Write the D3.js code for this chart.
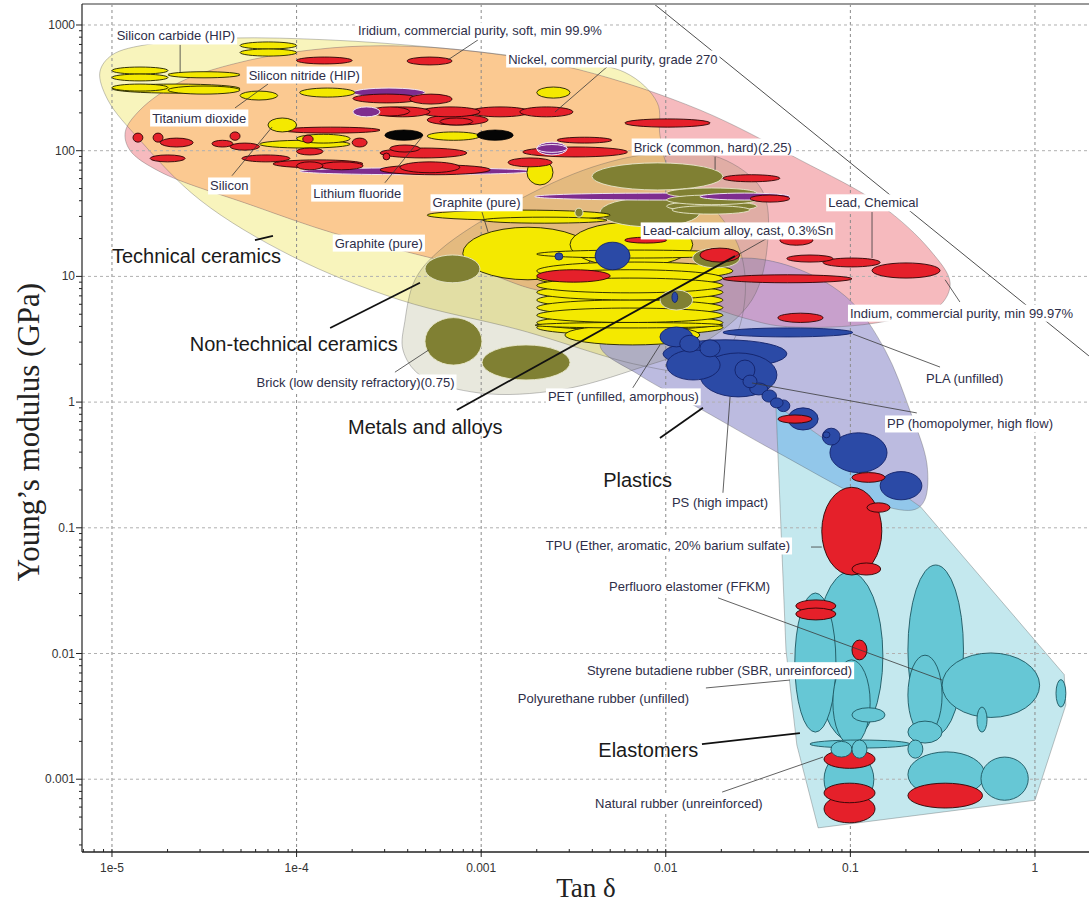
<!DOCTYPE html>
<html>
<head>
<meta charset="utf-8">
<script src="https://cdn.jsdelivr.net/npm/d3@7"></script>
<style>
  html, body { margin: 0; padding: 0; background: #fff; }
  svg { display: block; }
</style>
</head>
<body>
<svg id="chart" width="1089" height="911"></svg>
<script>
// ---------------- data ----------------
// Each bubble: [tan δ min, tan δ max, E min (GPa), E max (GPa)]
const technicalCeramics = [
  [4.94e-5, 1.0e-4, 644, 733], [4.94e-5, 1.0e-4, 566, 644],
  [1.0e-5, 2.01e-5, 407, 463], [1.0e-5, 2.01e-5, 359, 407], [1.0e-5, 2.01e-5, 298, 339],
  [2.01e-5, 4.94e-5, 380, 425], [1.0e-5, 4.94e-5, 287, 339], [2.01e-5, 4.94e-5, 282, 327],
  [4.94e-5, 7.9e-5, 253, 298], [1.04e-4, 2.07e-4, 267, 315],
  [7.0e-5, 1.0e-4, 141, 182], [6.3e-5, 1.95e-4, 105, 121], [1.0e-4, 1.95e-4, 115, 135],
  [2.0e-3, 3.03e-3, 262, 321], [5.1e-4, 9.85e-4, 121, 141], [1.77e-3, 2.45e-3, 53.4, 84.5],
  [5.1e-4, 5.0e-3, 28, 33.7], [1.02e-3, 4.8e-3, 26.5, 29.6],
  [7.95e-4, 4.04e-3, 9.4, 24.6], [3.03e-3, 0.014, 11.9, 27], [2.0e-3, 0.0231, 14, 16.2],
  [2.0e-3, 0.0231, 9.4, 13.0], [2.0e-3, 0.0204, 8.3, 11.3], [2.0e-3, 0.0204, 7.4, 9.7],
  [2.0e-3, 0.0204, 6.5, 8.6], [2.0e-3, 0.0204, 5.6, 7.5], [2.0e-3, 0.0204, 4.9, 6.5],
  [2.0e-3, 0.0204, 4.3, 5.6], [2.0e-3, 0.0204, 3.75, 4.9], [2.0e-3, 0.0204, 3.42, 4.5],
  [2.84e-3, 0.0153, 2.85, 4.1], [1.96e-3, 0.0204, 3.89, 4.3]
];
const nonTechnicalCeramics = [
  [3.98e-3, 0.0204, 48.7, 80.0], [0.0101, 0.0312, 42.1, 50.5], [0.0101, 0.0312, 37.2, 44.4],
  [0.0101, 0.0312, 33.0, 39.7], [0.0108, 0.0286, 31.3, 36.5], [4.4e-3, 0.0153, 24.8, 42.2],
  [3.22e-3, 3.56e-3, 29.6, 34.9], [4.96e-4, 9.85e-4, 8.9, 14.8], [4.96e-4, 1.01e-3, 1.97, 4.7],
  [1.01e-3, 3.03e-3, 1.5, 2.85], [9.3e-3, 0.014, 5.4, 7.8], [0.014, 0.0252, 11.7, 16.8]
];
const metalsAlloys = [
  [1.0e-4, 2.0e-4, 490, 556], [3.97e-4, 6.95e-4, 481, 556], [2.02e-4, 4.66e-4, 240, 282],
  [4.1e-4, 6.95e-4, 235, 282], [2.5e-4, 4.1e-4, 189, 223], [2.66e-4, 5.28e-4, 186, 223],
  [4.66e-4, 9.85e-4, 186, 223], [8.7e-4, 1.84e-3, 186, 223], [1.62e-3, 3.14e-3, 186, 223],
  [5.1e-4, 1.09e-3, 160, 193], [5.98e-4, 9.0e-4, 160, 182], [6.0e-3, 0.0174, 154, 179],
  [2.58e-3, 5.1e-3, 115, 128], [1.68e-3, 6.2e-3, 89.2, 107], [1.40e-3, 2.42e-3, 74.4, 87.6],
  [2.83e-4, 8.36e-4, 87.6, 105], [3.2e-4, 4.66e-4, 97.6, 111], [2.83e-4, 1.12e-3, 64.4, 77.2],
  [3.63e-4, 7.66e-4, 66.8, 81.5], [0.0204, 0.0415, 56.6, 64.4], [0.0286, 0.047, 39.0, 44.4],
  [0.0415, 0.0627, 17.7, 21.3], [0.0453, 0.0804, 13.0, 14.8], [0.0711, 0.145, 11.9, 14.0],
  [0.131, 0.306, 9.7, 12.8], [0.0204, 0.102, 8.9, 10.3], [0.0405, 0.0711, 4.3, 5.1],
  [2.0e-3, 5.0e-3, 9.0, 11.3], [0.0153, 0.0252, 13.0, 16.8], [6.0e-3, 0.0101, 18.4, 20.5],
  [0.0405, 0.062, 0.68, 0.79], [0.102, 0.154, 0.23, 0.275], [0.123, 0.164, 0.133, 0.158],
  [0.070, 0.148, 0.0421, 0.21], [0.102, 0.146, 0.0421, 0.0525], [0.0506, 0.0835, 0.0214, 0.0267],
  [0.0506, 0.0835, 0.0185, 0.023], [0.102, 0.123, 0.0089, 0.0128], [0.072, 0.136, 0.00122, 0.00171],
  [0.072, 0.136, 0.00065, 0.00093], [0.072, 0.136, 0.00045, 0.00075], [0.205, 0.52, 0.00059, 0.00093],
  [1.30e-5, 1.47e-5, 117, 138], [1.67e-5, 1.89e-5, 117, 138], [1.82e-5, 2.75e-5, 107, 126],
  [1.61e-5, 2.49e-5, 81.5, 92.5], [3.48e-5, 4.52e-5, 107, 121], [4.36e-5, 4.94e-5, 121, 141],
  [4.36e-5, 6.3e-5, 101, 115], [5.06e-5, 9.2e-5, 81.5, 92.5], [7.45e-5, 2.29e-4, 73.1, 84.5],
  [8.3e-5, 2.83e-4, 138, 154], [1.0e-4, 1.39e-4, 92.5, 105], [2.0e-4, 2.41e-4, 107, 126],
  [1.08e-4, 1.23e-4, 115, 133], [1.0e-4, 1.39e-4, 70.5, 81.5], [1.34e-4, 2.29e-4, 70.5, 81.5],
  [2.94e-4, 3.2e-4, 84.5, 95.8]
];
const purpleMaterials = [
  [2.02e-4, 4.96e-4, 267, 315], [2.02e-4, 2.83e-4, 186, 223], [2.0e-3, 2.92e-3, 92.5, 117],
  [2.0e-3, 2.92e-3, 97, 112], [1.04e-4, 1.91e-3, 64.4, 73.1], [1.95e-3, 0.047, 40.5, 46.0],
  [0.0153, 0.047, 40.5, 46.0]
];
const blackMaterials = [
  [3.01e-4, 4.83e-4, 121, 146], [9.5e-4, 1.49e-3, 121, 146]
];
const plastics = [
  [4.14e-3, 6.4e-3, 11.3, 18.7], [2.51e-3, 2.77e-3, 13.5, 15.4], [0.0108, 0.0116, 6.2, 7.5],
  [9.3e-3, 0.014, 2.75, 3.96], [9.66e-3, 0.0453, 1.87, 3.13], [0.0101, 0.0197, 1.5, 2.6],
  [0.0153, 0.040, 1.10, 2.46], [0.0204, 0.103, 3.3, 3.89], [0.0262, 0.0312, 1.30, 1.64],
  [0.0285, 0.0357, 1.14, 1.42], [0.0332, 0.0398, 1.0, 1.25], [0.0369, 0.0432, 0.90, 1.08],
  [0.040, 0.047, 0.84, 1.04], [0.0119, 0.0153, 2.5, 3.4], [0.0153, 0.0197, 2.29, 3.13],
  [0.0237, 0.0304, 1.5, 2.16], [0.0459, 0.0669, 0.60, 0.90], [0.0711, 0.0775, 0.52, 0.58],
  [0.0775, 0.158, 0.275, 0.57], [0.0705, 0.088, 0.455, 0.62], [0.145, 0.244, 0.167, 0.28]
];
const elastomers = [
  [0.065, 0.150, 0.00205, 0.0445], [0.050, 0.0835, 0.00237, 0.0303], [0.0804, 0.128, 0.00187, 0.0089],
  [0.205, 0.41, 0.00225, 0.0506], [0.205, 0.314, 0.00225, 0.0097], [0.314, 1.06, 0.0031, 0.0101],
  [1.30, 1.47, 0.00375, 0.0062], [0.485, 0.55, 0.00237, 0.00375], [0.102, 0.154, 0.00285, 0.0037],
  [0.205, 0.314, 0.00194, 0.0029], [0.0604, 0.210, 0.00177, 0.00205], [0.205, 0.247, 0.00147, 0.00205],
  [0.102, 0.123, 0.00147, 0.00205], [0.0785, 0.102, 0.0015, 0.002], [0.205, 0.535, 0.00072, 0.00165],
  [0.51, 0.92, 0.00068, 0.0015], [0.072, 0.134, 0.0006, 0.00165]
];

// Family envelopes: [tan δ, E (GPa)] outline points
const techCeramicsEnvelope = [
  [8.6e-6, 423], [1.0e-5, 577], [1.61e-5, 706], [4.36e-5, 787], [1.52e-4, 760], [5.28e-4, 668],
  [1.84e-3, 546], [6.0e-3, 420], [9.0e-3, 240], [9.3e-3, 133], [0.0105, 70.5], [0.0185, 33.7],
  [0.0252, 16.2], [0.0268, 6.5], [0.0224, 2.85], [0.0136, 1.8], [7.2e-3, 1.97], [1.62e-3, 3.75],
  [3.63e-4, 6.5], [9.5e-5, 14.4], [3.0e-5, 40.5], [1.42e-5, 121], [9.5e-6, 253]
];
const metalsEnvelope = [
  [1.18e-5, 141], [1.42e-5, 211], [2.34e-5, 352], [5.6e-5, 527], [1.52e-4, 656], [3.63e-4, 681],
  [9.85e-4, 610], [3.43e-3, 439], [0.0153, 211], [0.0533, 84.5], [0.145, 37.2], [0.270, 16.2],
  [0.347, 8.9], [0.306, 5.9], [0.186, 4.65], [0.099, 4.03], [0.0415, 4.03], [0.0268, 4.65],
  [0.0153, 5.9], [6.4e-3, 6.5], [2.0e-3, 7.8], [1.02e-3, 10.9], [3.63e-4, 16.2], [1.57e-4, 22.2],
  [5.6e-5, 37.2], [1.82e-5, 68], [1.25e-5, 101]
];
const nonTechEnvelope = [
  [3.86e-4, 4.4], [4.38e-4, 9.4], [5.98e-4, 16.2], [1.49e-3, 38.5], [4.04e-3, 74.4], [9.3e-3, 95.8],
  [0.0197, 87.6], [0.0332, 48.7], [0.0357, 19.4], [0.0293, 6.5], [0.0153, 2.85], [7.2e-3, 1.87],
  [2.67e-3, 1.25], [9.85e-4, 1.18], [4.66e-4, 1.64], [3.77e-4, 2.6]
];
const plasticsEnvelope = [
  [4.4e-3, 2.85], [7.2e-3, 6.5], [0.0153, 11.7], [0.0268, 14.0], [0.0533, 11.3], [0.099, 6.5],
  [0.154, 2.6], [0.210, 0.86], [0.26, 0.32], [0.253, 0.167], [0.224, 0.14], [0.145, 0.152],
  [0.040, 0.40], [0.0159, 0.86], [7.2e-3, 1.64]
];
const elastomersEnvelope = [
  [0.0395, 0.95], [0.241, 0.146], [1.44, 0.0068], [1.47, 0.0039], [1.0, 0.00068],
  [0.0669, 0.00041], [0.0513, 0.00187], [0.0448, 0.0106]
];

// Reference guideline
const guideLine = [[0.0085, 1500], [1.96, 2.33]];

// Material annotations: text anchored at its left edge / vertical middle
const materialLabels = [
  { text: "Silicon carbide (HIP)", t: 1.06e-5, e: 818, lead: [[2.34e-5, 694], [2.34e-5, 423]] },
  { text: "Iridium, commercial purity, soft, min 99.9%", t: 2.15e-4, e: 896, lead: [[9.6e-4, 760], [6.6e-4, 527]] },
  { text: "Silicon nitride (HIP)", t: 5.5e-5, e: 400, lead: null },
  { text: "Nickel, commercial purity, grade 270", t: 1.40e-3, e: 536, lead: [[4.87e-3, 472], [2.51e-3, 203]] },
  { text: "Titanium dioxide", t: 1.65e-5, e: 182, lead: [[4.64e-5, 219], [7.0e-5, 339]] },
  { text: "Silicon", t: 3.4e-5, e: 52.4, lead: [[4.47e-5, 63.3], [7.36e-5, 154]] },
  { text: "Lithium fluoride", t: 1.23e-4, e: 46, lead: [[3.01e-4, 55.6], [4.77e-4, 128]] },
  { text: "Brick (common, hard)(2.25)", t: 6.7e-3, e: 107, lead: [[0.0185, 89.2], [0.0185, 70.5]] },
  { text: "Graphite (pure)", t: 5.45e-4, e: 38.5, lead: [[1.01e-3, 32.5], [1.09e-3, 22.5]] },
  { text: "Graphite (pure)", t: 1.61e-4, e: 18.4, lead: null },
  { text: "Lead, Chemical", t: 0.0758, e: 38.5, lead: [[0.131, 32.5], [0.131, 14.0]] },
  { text: "Lead-calcium alloy, cast, 0.3%Sn", t: 7.5e-3, e: 23, lead: [[0.0405, 22.5], [0.0237, 14.4]] },
  { text: "Brick (low density refractory)(0.75)", t: 6.07e-5, e: 1.42, lead: [[3.41e-4, 1.73], [5.2e-4, 2.6]] },
  { text: "PET (unfilled, amorphous)", t: 2.3e-3, e: 1.10, lead: [[6.63e-3, 1.30], [9.3e-3, 2.85]] },
  { text: "PLA (unfilled)", t: 0.257, e: 1.55, lead: [[0.306, 1.90], [0.103, 3.48]] },
  { text: "PP (homopolymer, high flow)", t: 0.158, e: 0.67, lead: [[0.229, 0.82], [0.0293, 1.42]] },
  { text: "Indium, commercial purity, min 99.97%", t: 0.0995, e: 5.1, lead: [[0.392, 6.26], [0.326, 9.4]] },
  { text: "PS (high impact)", t: 0.0108, e: 0.158, lead: [[0.0204, 0.19], [0.0223, 1.10]] },
  { text: "TPU (Ether, aromatic, 20% barium sulfate)", t: 2.24e-3, e: 0.0717, lead: [[0.0612, 0.0703], [0.070, 0.0703]] },
  { text: "Perfluoro elastomer (FFKM)", t: 4.93e-3, e: 0.0344, lead: [[0.0192, 0.0277], [0.314, 0.00615]] },
  { text: "Styrene butadiene rubber (SBR, unreinforced)", t: 3.74e-3, e: 0.0073, lead: null },
  { text: "Polyurethane rubber (unfilled)", t: 1.58e-3, e: 0.0044, lead: [[0.0165, 0.00532], [0.047, 0.00615]] },
  { text: "Natural rubber (unreinforced)", t: 4.14e-3, e: 0.00064, lead: [[0.0202, 0.00079], [0.0711, 0.0015]] }
];
const familyLabels = [
  { text: "Technical ceramics", t: 1.0e-5, e: 14.4, lead: [[5.95e-5, 19.4], [7.45e-5, 21.0]] },
  { text: "Non-technical ceramics", t: 2.64e-5, e: 2.9, lead: [[1.52e-4, 3.89], [4.66e-4, 8.9]] },
  { text: "Metals and alloys", t: 1.90e-4, e: 0.63, lead: [[7.38e-4, 0.865], [0.0237, 14.5]] },
  { text: "Plastics", t: 4.58e-3, e: 0.24, lead: [[9.3e-3, 0.518], [0.0159, 0.90]] },
  { text: "Elastomers", t: 4.31e-3, e: 0.0017, lead: [[0.0157, 0.0019], [0.0533, 0.00233]] }
];

const xTickValues = [1e-5, 1e-4, 1e-3, 1e-2, 0.1, 1];
const xTickLabels = ["1e-5", "1e-4", "0.001", "0.01", "0.1", "1"];
const yTickValues = [1000, 100, 10, 1, 0.1, 0.01, 0.001];
const yTickLabels = ["1000", "100", "10", "1", "0.1", "0.01", "0.001"];

// ---------------- layout ----------------
const svg = d3.select("#chart");
const plot = { left: 82, top: 4, right: 1089, bottom: 852 };
const x = d3.scaleLog().domain([6.88e-6, 1.962]).range([plot.left, plot.right]);
const y = d3.scaleLog().domain([2.636e-4, 1469]).range([plot.bottom, plot.top]);

const defs = svg.append("defs");
defs.append("clipPath").attr("id", "plot-clip")
  .append("rect").attr("x", plot.left).attr("y", plot.top)
  .attr("width", plot.right - plot.left).attr("height", plot.bottom - plot.top);

const smooth = d3.line().x(d => x(d[0])).y(d => y(d[1])).curve(d3.curveCatmullRomClosed.alpha(0.5));
const straight = d3.line().x(d => x(d[0])).y(d => y(d[1])).curve(d3.curveLinearClosed);

const envPaths = {
  tech: smooth(techCeramicsEnvelope),
  metals: smooth(metalsEnvelope),
  nontech: smooth(nonTechEnvelope),
  plastics: smooth(plasticsEnvelope),
  elastomers: straight(elastomersEnvelope)
};
Object.entries(envPaths).forEach(([k, d]) => {
  defs.append("clipPath").attr("id", "clip-" + k).append("path").attr("d", d);
});

const g = svg.append("g").attr("clip-path", "url(#plot-clip)");

// ---- envelopes ----
const env = g.append("g");
env.append("path").attr("d", envPaths.tech).attr("fill", "#f8f4bc");
env.append("path").attr("d", envPaths.metals).attr("fill", "#f6babe");
env.append("g").attr("clip-path", "url(#clip-tech)")
  .append("path").attr("d", envPaths.metals).attr("fill", "#fbc991");
env.append("path").attr("d", envPaths.plastics).attr("fill", "#bcbbe0");
env.append("g").attr("clip-path", "url(#clip-metals)")
  .append("path").attr("d", envPaths.plastics).attr("fill", "#c8a0cc");
env.append("path").attr("d", envPaths.nontech).attr("fill", "rgba(100,100,30,0.15)");
env.append("path").attr("d", envPaths.elastomers).attr("fill", "#c4e8ee");
env.append("g").attr("clip-path", "url(#clip-plastics)")
  .append("path").attr("d", envPaths.elastomers).attr("fill", "#92c7ea");
Object.values(envPaths).forEach(d => {
  env.append("path").attr("d", d).attr("fill", "none")
    .attr("stroke", "rgba(90,90,90,0.45)").attr("stroke-width", 0.8);
});

// ---- grid ----
const grid = g.append("g");
xTickValues.forEach(v => {
  grid.append("line").attr("x1", x(v)).attr("x2", x(v)).attr("y1", plot.top).attr("y2", plot.bottom)
    .attr("stroke", "#8a8a8a").attr("stroke-width", 1).attr("stroke-dasharray", "3,3");
});
yTickValues.forEach(v => {
  grid.append("line").attr("x1", plot.left).attr("x2", plot.right).attr("y1", y(v)).attr("y2", y(v))
    .attr("stroke", "#b0b0b0").attr("stroke-width", 1).attr("stroke-dasharray", "3,3");
});

// ---- guideline ----
g.append("line")
  .attr("x1", x(guideLine[0][0])).attr("y1", y(guideLine[0][1]))
  .attr("x2", x(guideLine[1][0])).attr("y2", y(guideLine[1][1]))
  .attr("stroke", "#222").attr("stroke-width", 0.8);

// ---- bubbles (largest first so small ones stay visible) ----
const families = [
  { rows: technicalCeramics, fill: "#f4e900", stroke: "#1e1e00", sw: 0.9 },
  { rows: nonTechnicalCeramics, fill: "#808033", stroke: "#e9e8cc", sw: 0.9 },
  { rows: metalsAlloys, fill: "#e5202a", stroke: "#2a0505", sw: 0.9 },
  { rows: purpleMaterials, fill: "#7e2d8f", stroke: "#f1e6f4", sw: 1 },
  { rows: blackMaterials, fill: "#050505", stroke: "#000", sw: 0.8 },
  { rows: plastics, fill: "#2b4aa6", stroke: "#13236a", sw: 0.9 },
  { rows: elastomers, fill: "#66c7d5", stroke: "#1d5660", sw: 0.9 }
];
const bubbles = [];
families.forEach(f => f.rows.forEach(r => {
  const x1 = x(r[0]), x2 = x(r[1]), y1 = y(r[2]), y2 = y(r[3]);
  bubbles.push({ cx: (x1 + x2) / 2, cy: (y1 + y2) / 2, rx: Math.abs(x2 - x1) / 2, ry: Math.abs(y1 - y2) / 2, f });
}));
bubbles.sort((a, b) => b.rx * b.ry - a.rx * a.ry);
g.append("g").selectAll("ellipse").data(bubbles).join("ellipse")
  .attr("cx", d => d.cx).attr("cy", d => d.cy).attr("rx", d => d.rx).attr("ry", d => d.ry)
  .attr("fill", d => d.f.fill).attr("stroke", d => d.f.stroke).attr("stroke-width", d => d.f.sw);

// ---- leader lines ----
const leads = g.append("g");
materialLabels.filter(l => l.lead).forEach(l => {
  leads.append("line").attr("x1", x(l.lead[0][0])).attr("y1", y(l.lead[0][1]))
    .attr("x2", x(l.lead[1][0])).attr("y2", y(l.lead[1][1]))
    .attr("stroke", "#3a3a3a").attr("stroke-width", 0.8);
});
familyLabels.forEach(l => {
  leads.append("line").attr("x1", x(l.lead[0][0])).attr("y1", y(l.lead[0][1]))
    .attr("x2", x(l.lead[1][0])).attr("y2", y(l.lead[1][1]))
    .attr("stroke", "#111").attr("stroke-width", 1.8);
});

// ---- labels ----
const labelLayer = g.append("g");
materialLabels.forEach(l => {
  const lg = labelLayer.append("g");
  const txt = lg.append("text").attr("x", x(l.t)).attr("y", y(l.e))
    .attr("dominant-baseline", "central")
    .attr("font-family", "'Liberation Sans', Arial, sans-serif").attr("font-size", 13)
    .attr("fill", "#2e2e48").text(l.text);
  const b = txt.node().getBBox();
  lg.insert("rect", "text").attr("x", b.x - 2).attr("y", b.y - 1)
    .attr("width", b.width + 4).attr("height", b.height + 2).attr("fill", "#fff");
});
familyLabels.forEach(l => {
  labelLayer.append("text").attr("x", x(l.t)).attr("y", y(l.e))
    .attr("dominant-baseline", "central")
    .attr("font-family", "'Liberation Sans', Arial, sans-serif").attr("font-size", 20)
    .attr("fill", "#1a1a1a").text(l.text);
});

// ---- axes ----
const axes = svg.append("g");
axes.append("line").attr("x1", plot.left).attr("x2", plot.right).attr("y1", plot.top).attr("y2", plot.top)
  .attr("stroke", "#9a9a9a").attr("stroke-width", 2);
axes.append("line").attr("x1", plot.left).attr("x2", plot.left).attr("y1", plot.top).attr("y2", plot.bottom)
  .attr("stroke", "#222").attr("stroke-width", 1.2);
axes.append("line").attr("x1", plot.left).attr("x2", plot.right).attr("y1", plot.bottom).attr("y2", plot.bottom)
  .attr("stroke", "#222").attr("stroke-width", 1.5);

const minorX = [], minorY = [];
for (let p = -6; p <= 0; p++) for (let m = 2; m <= 9; m++) {
  const v = m * Math.pow(10, p);
  const [a, b] = x.domain(); if (v > a && v < b) minorX.push(v);
}
for (let p = -4; p <= 3; p++) for (let m = 2; m <= 9; m++) {
  const v = m * Math.pow(10, p);
  const [a, b] = y.domain(); if (v > a && v < b) minorY.push(v);
}
minorX.forEach(v => axes.append("line").attr("x1", x(v)).attr("x2", x(v))
  .attr("y1", plot.bottom).attr("y2", plot.bottom - 3).attr("stroke", "#222"));
xTickValues.forEach((v, i) => {
  axes.append("line").attr("x1", x(v)).attr("x2", x(v)).attr("y1", plot.bottom - 3).attr("y2", plot.bottom + 5)
    .attr("stroke", "#222");
  axes.append("text").attr("x", x(v)).attr("y", plot.bottom + 16).attr("text-anchor", "middle")
    .attr("dominant-baseline", "central")
    .attr("font-family", "'Liberation Sans', Arial, sans-serif").attr("font-size", 12)
    .attr("fill", "#333").text(xTickLabels[i]);
});
minorY.forEach(v => axes.append("line").attr("x1", plot.left - 3).attr("x2", plot.left)
  .attr("y1", y(v)).attr("y2", y(v)).attr("stroke", "#222"));
yTickValues.forEach((v, i) => {
  axes.append("line").attr("x1", plot.left - 6).attr("x2", plot.left).attr("y1", y(v)).attr("y2", y(v))
    .attr("stroke", "#222");
  axes.append("text").attr("x", plot.left - 7).attr("y", y(v)).attr("text-anchor", "end")
    .attr("dominant-baseline", "central")
    .attr("font-family", "'Liberation Sans', Arial, sans-serif").attr("font-size", 12)
    .attr("fill", "#333").text(yTickLabels[i]);
});

svg.append("text").attr("transform", "translate(39,432) rotate(-90)").attr("text-anchor", "middle")
  .attr("font-family", "'Liberation Serif', 'Times New Roman', serif").attr("font-size", 31)
  .attr("fill", "#222").text("Young\u2019s modulus (GPa)");
svg.append("text").attr("x", 586).attr("y", 897).attr("text-anchor", "middle")
  .attr("font-family", "'Liberation Serif', 'Times New Roman', serif").attr("font-size", 27)
  .attr("fill", "#222").text("Tan \u03b4");
</script>
</body>
</html>
